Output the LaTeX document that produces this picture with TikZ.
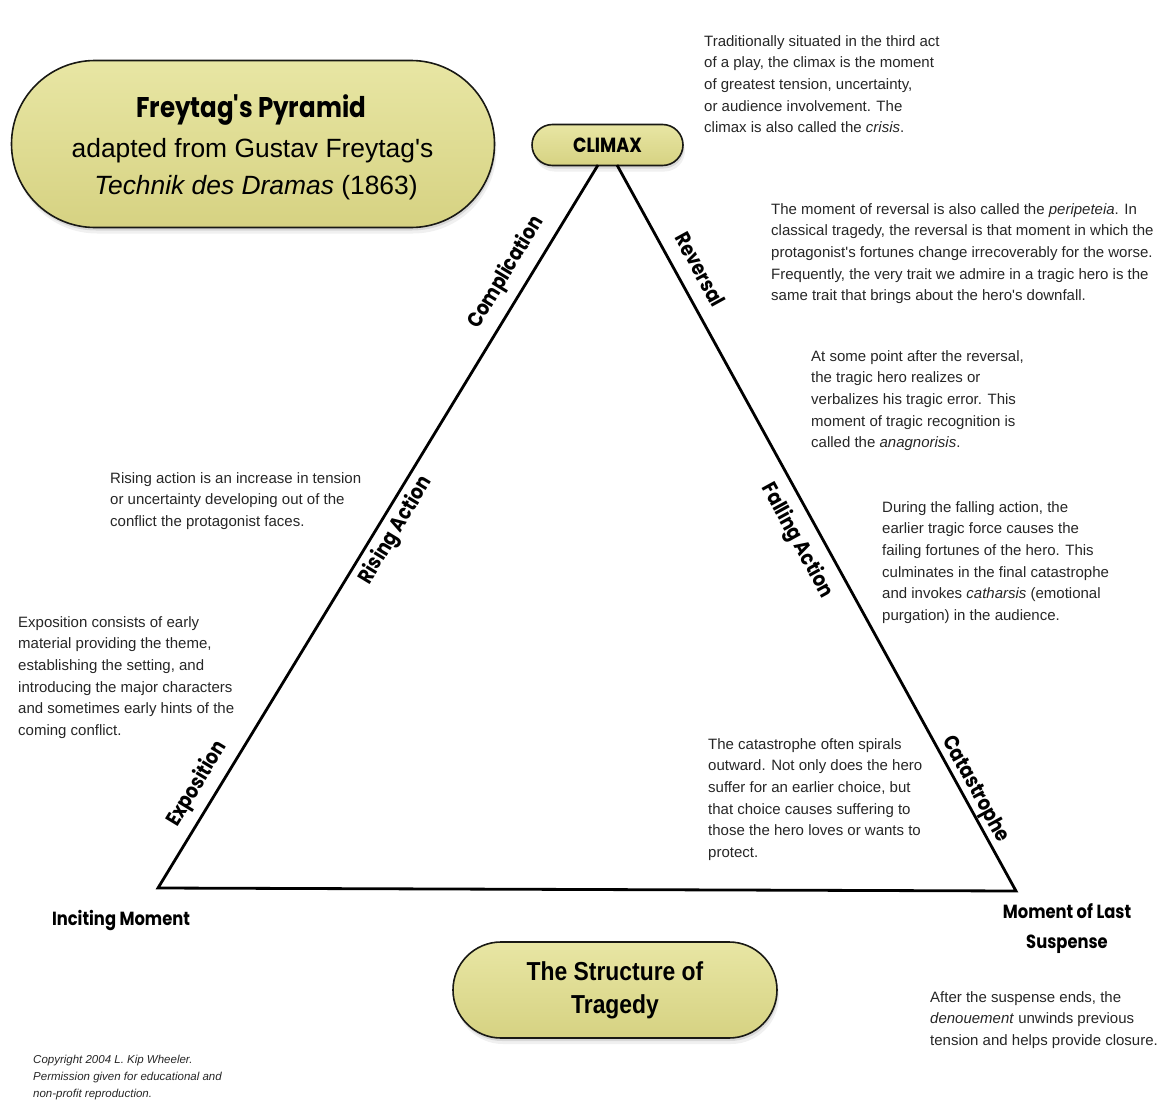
\documentclass[tikz,border=0pt]{standalone}
\usepackage{fontspec}
\usetikzlibrary{shapes.misc}
\setmainfont{Liberation Sans}
\newfontfamily\bodyfont{Liberation Sans}
\newfontfamily\headfont{Poppins}[FakeStretch=0.86]
\newfontfamily\condbold{Liberation Sans}[FakeStretch=0.88]

\definecolor{pillfill}{RGB}{214,210,130}
\definecolor{pilllight}{RGB}{232,230,164}
\definecolor{rim}{RGB}{25,25,20}
\definecolor{ink}{RGB}{38,38,38}

\tikzset{
  pill/.style={rounded rectangle, draw=rim, line width=1.6pt,
    top color=pilllight, bottom color=pillfill, inner sep=0pt, align=center,
    preaction={fill=black, opacity=0.10, transform canvas={xshift=1pt, yshift=-3pt}},
    preaction={fill=black, opacity=0.06, transform canvas={xshift=2pt, yshift=-6pt}}},
  body/.style={anchor=north west, inner sep=0pt, align=left, text=ink,
    font=\bodyfont\fontsize{15}{21.6}\selectfont},
  fine/.style={anchor=north west, inner sep=0pt, align=left, text=ink,
    font=\bodyfont\itshape\fontsize{11.5}{17}\selectfont},
  edgelab/.style={sloped, inner sep=0pt, text height=15pt, text depth=4pt,
    font=\headfont\bfseries\fontsize{21}{24}\selectfont},
  cornerlab/.style={inner sep=0pt, align=center,
    font=\headfont\bfseries\fontsize{19}{30}\selectfont},
  tri/.style={line width=2.8pt, line join=miter, draw=black}
}

\begin{document}
\begin{tikzpicture}[x=1pt, y=-1pt]
\useasboundingbox (0,0) rectangle (1163,1100);

% --- title pill ---
\node[pill, minimum width=483pt, minimum height=167pt] (titlepill) at (253,144) {};
\node[anchor=base, inner sep=0pt, font=\headfont\bfseries\fontsize{28.5}{30}\selectfont]
  (title1) at (251,117) {Freytag's Pyramid};
\node[anchor=base, inner sep=0pt, font=\bodyfont\fontsize{26.4}{30}\selectfont]
  (title2) at (252.5,157) {adapted from Gustav Freytag's};
\node[anchor=base, inner sep=0pt, font=\bodyfont\fontsize{26.4}{30}\selectfont]
  (title3) at (256,194) {\textit{Technik des Dramas} (1863)};

% --- climax pill ---
\node[pill, minimum width=151pt, minimum height=41pt,
  font=\headfont\bfseries\fontsize{20.5}{22}\selectfont] (climax) at (607.5,145) {CLIMAX};

% --- the pyramid ---
\coordinate (apexL) at (598,165);
\coordinate (apexR) at (617,165);
\coordinate (baseL) at (158,888);
\coordinate (baseR) at (1016,891);

\draw[tri] (apexR)
  -- node[edgelab, pos=0.159, above=9.5pt] {Reversal}
     node[edgelab, pos=0.502, below=12.5pt] {Falling Action}
     node[edgelab, pos=0.869, above=2.5pt] {Catastrophe}
  (baseR) -- (baseL)
  -- node[edgelab, pos=0.129, above=9.5pt] {Exposition}
     node[edgelab, pos=0.507, below=6.5pt] {Rising Action}
     node[edgelab, pos=0.835, above=11.5pt] {Complication}
  (apexL);

% --- corner labels ---
\node[cornerlab] (inciting) at (121,920) {Inciting Moment};
\node[cornerlab] (lastsuspense) at (1067,929) {Moment of Last\\Suspense};

% --- bottom pill ---
\node[pill, minimum width=324pt, minimum height=96pt,
  font=\condbold\bfseries\fontsize{26}{33}\selectfont] (structure) at (615,990)
  {The Structure of\\Tragedy};

% --- commentary ---
\node[body] (climaxnote) at (704,34) {\rule{0pt}{12pt}Traditionally situated in the third act\\
of a play, the climax is the moment\\
of greatest tension, uncertainty,\\
or audience involvement. The\\
climax is also called the \textit{crisis}.};

\node[body] (reversalnote) at (771,202) {\rule{0pt}{12pt}The moment of reversal is also called the \textit{peripeteia}. In\\
classical tragedy, the reversal is that moment in which the\\
protagonist's fortunes change irrecoverably for the worse.\\
Frequently, the very trait we admire in a tragic hero is the\\
same trait that brings about the hero's downfall.};

\node[body] (recognitionnote) at (811,349) {\rule{0pt}{12pt}At some point after the reversal,\\
the tragic hero realizes or\\
verbalizes his tragic error. This\\
moment of tragic recognition is\\
called the \textit{anagnorisis}.};

\node[body] (fallingnote) at (882,500) {\rule{0pt}{12pt}During the falling action, the\\
earlier tragic force causes the\\
failing fortunes of the hero. This\\
culminates in the final catastrophe\\
and invokes \textit{catharsis} (emotional\\
purgation) in the audience.};

\node[body] (risingnote) at (110,471) {\rule{0pt}{12pt}Rising action is an increase in tension\\
or uncertainty developing out of the\\
conflict the protagonist faces.};

\node[body] (expositionnote) at (18,615) {\rule{0pt}{12pt}Exposition consists of early\\
material providing the theme,\\
establishing the setting, and\\
introducing the major characters\\
and sometimes early hints of the\\
coming conflict.};

\node[body] (catastrophenote) at (708,737) {\rule{0pt}{12pt}The catastrophe often spirals\\
outward. Not only does the hero\\
suffer for an earlier choice, but\\
that choice causes suffering to\\
those the hero loves or wants to\\
protect.};

\node[body] (denouementnote) at (930,990) {\rule{0pt}{12pt}After the suspense ends, the\\
\textit{denouement} unwinds previous\\
tension and helps provide closure.};

\node[fine] (copyright) at (33,1054) {\rule{0pt}{9pt}Copyright 2004 L. Kip Wheeler.\\
Permission given for educational and\\
non-profit reproduction.};
\end{tikzpicture}
\end{document}
